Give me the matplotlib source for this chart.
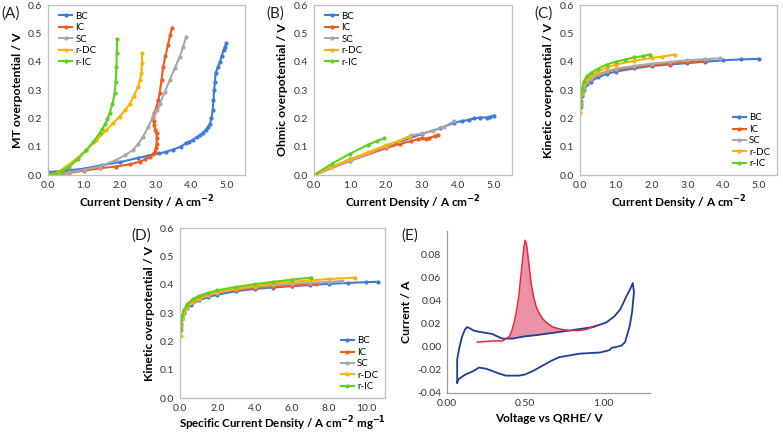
import matplotlib
matplotlib.use("Agg")
import matplotlib.pyplot as plt

plt.rcParams['font.family'] = ['Lato', 'DejaVu Sans']
plt.rcParams['axes.unicode_minus'] = False

names = ['BC', 'IC', 'SC', 'r-DC', 'r-IC']
colors = ['#3D7BDC', '#F05A1E', '#A8A8A8', '#FFB300', '#5ED11E']

# (A) mass transport overpotential
mt_x = {
    'BC': [0.0, 0.5, 1.0, 1.5, 2.0, 2.5, 2.8, 3.1, 3.3, 3.5, 3.7, 3.85, 3.95, 4.05, 4.15, 4.25, 4.33, 4.4,
           4.47, 4.52, 4.56, 4.6, 4.62, 4.64, 4.66, 4.68, 4.74, 4.8, 4.85, 4.9, 4.94, 4.98],
    'IC': [0.3, 0.6, 1.0, 1.45, 1.9, 2.3, 2.56, 2.72, 2.84, 2.92, 2.98, 3.01, 3.03, 3.04, 3.03, 3.0, 2.97,
           2.95, 2.93, 2.97, 3.03, 3.08, 3.12, 3.17, 3.21, 3.28, 3.35, 3.41, 3.47],
    'SC': [0.2, 0.6, 1.0, 1.45, 1.9, 2.15, 2.37, 2.52, 2.65, 2.8, 2.93, 3.03, 3.12, 3.26, 3.4, 3.54, 3.68,
           3.77, 3.86],
    'r-DC': [0.1, 0.3, 0.5, 0.8, 1.07, 1.35, 1.63, 1.82, 2.0, 2.14, 2.28, 2.4, 2.51, 2.57, 2.61, 2.62, 2.63],
    'r-IC': [0.0, 0.23, 0.4, 0.6, 0.85, 1.07, 1.25, 1.44, 1.52, 1.6, 1.66, 1.72, 1.8, 1.86, 1.89, 1.91,
             1.92, 1.93],
}
mt_y = {
    'BC': [0.01, 0.016, 0.022, 0.035, 0.045, 0.06, 0.068, 0.076, 0.082, 0.09, 0.1, 0.112, 0.118, 0.125,
           0.133, 0.141, 0.15, 0.16, 0.17, 0.18, 0.2, 0.23, 0.265, 0.3, 0.33, 0.36, 0.38, 0.4, 0.42, 0.44,
           0.452, 0.465],
    'IC': [0.0, 0.008, 0.015, 0.024, 0.03, 0.038, 0.047, 0.055, 0.065, 0.073, 0.082, 0.095, 0.11, 0.13,
           0.147, 0.16, 0.175, 0.19, 0.206, 0.22, 0.24, 0.265, 0.29, 0.335, 0.38, 0.42, 0.46, 0.495, 0.52],
    'SC': [0.0, 0.01, 0.018, 0.03, 0.053, 0.07, 0.088, 0.11, 0.135, 0.17, 0.206, 0.228, 0.25, 0.293,
           0.335, 0.377, 0.418, 0.453, 0.488],
    'r-DC': [0.0, 0.012, 0.03, 0.058, 0.088, 0.122, 0.159, 0.183, 0.206, 0.228, 0.25, 0.28, 0.31, 0.335,
             0.36, 0.395, 0.43],
    'r-IC': [0.005, 0.005, 0.014, 0.03, 0.058, 0.088, 0.115, 0.147, 0.163, 0.18, 0.198, 0.218, 0.25,
             0.288, 0.33, 0.38, 0.43, 0.48],
}

# (B) ohmic overpotential
ohm_x = {
    'BC': [0.0, 1.0, 2.0, 3.0, 3.5, 3.9, 4.1, 4.3, 4.45, 4.6, 4.8, 4.9, 5.0],
    'IC': [0.0, 1.0, 2.0, 2.4, 2.7, 2.9, 3.0, 3.1, 3.2, 3.35, 3.45],
    'SC': [0.0, 1.0, 2.0, 2.7, 3.0, 3.3, 3.6, 3.9],
    'r-DC': [0.0, 0.5, 1.0, 1.5, 2.0, 2.35, 2.65],
    'r-IC': [0.0, 0.5, 1.0, 1.5, 1.75, 1.95],
}
ohm_y = {
    'BC': [0.0, 0.055, 0.1, 0.145, 0.165, 0.185, 0.19, 0.195, 0.2, 0.203, 0.203, 0.206, 0.21],
    'IC': [0.0, 0.05, 0.095, 0.11, 0.12, 0.127, 0.13, 0.128, 0.13, 0.138, 0.142],
    'SC': [0.0, 0.05, 0.1, 0.14, 0.147, 0.155, 0.17, 0.19],
    'r-DC': [0.0, 0.03, 0.055, 0.08, 0.105, 0.12, 0.135],
    'r-IC': [0.0, 0.04, 0.075, 0.107, 0.12, 0.13],
}

# (C) kinetic overpotential vs current density
kin_x = {
    'BC': [0.02, 0.05, 0.1, 0.2, 0.3, 0.5, 0.75, 1.0, 1.5, 2.0, 2.5, 3.0, 3.5, 4.0, 4.5, 5.0],
    'IC': [0.02, 0.05, 0.1, 0.2, 0.3, 0.5, 0.75, 1.0, 1.5, 2.0, 2.5, 3.0, 3.45],
    'SC': [0.02, 0.05, 0.1, 0.2, 0.3, 0.5, 0.75, 1.0, 1.5, 2.0, 2.5, 3.0, 3.5, 3.9],
    'r-DC': [0.01, 0.05, 0.1, 0.2, 0.3, 0.5, 0.75, 1.0, 1.5, 2.0, 2.3, 2.65],
    'r-IC': [0.02, 0.05, 0.1, 0.2, 0.3, 0.5, 0.75, 1.0, 1.25, 1.5, 1.75, 1.95],
}
kin_y = {
    'BC': [0.25, 0.28, 0.3, 0.32, 0.33, 0.345, 0.357, 0.365, 0.376, 0.385, 0.39, 0.395, 0.4, 0.405, 0.408, 0.41],
    'IC': [0.26, 0.29, 0.31, 0.33, 0.34, 0.355, 0.365, 0.372, 0.381, 0.388, 0.393, 0.398, 0.402],
    'SC': [0.25, 0.285, 0.305, 0.328, 0.34, 0.355, 0.366, 0.375, 0.385, 0.393, 0.399, 0.405, 0.409, 0.412],
    'r-DC': [0.22, 0.29, 0.32, 0.34, 0.35, 0.365, 0.379, 0.39, 0.403, 0.413, 0.418, 0.425],
    'r-IC': [0.24, 0.3, 0.33, 0.35, 0.36, 0.375, 0.39, 0.4, 0.407, 0.415, 0.42, 0.425],
}

# (D) kinetic overpotential vs specific current density
spec_x = {
    'BC': [0.02, 0.1, 0.2, 0.4, 0.6, 1.0, 1.5, 2.0, 3.0, 4.0, 5.0, 6.0, 7.0, 8.0, 9.0, 10.0, 10.6],
    'IC': [0.05, 0.1, 0.2, 0.4, 0.7, 1.0, 1.5, 2.0, 3.0, 4.0, 5.0, 6.0, 7.3],
    'SC': [0.05, 0.1, 0.2, 0.4, 0.7, 1.0, 1.5, 2.0, 3.0, 4.0, 5.0, 6.0, 7.0, 8.0, 8.7],
    'r-DC': [0.03, 0.1, 0.35, 0.7, 1.0, 1.5, 2.0, 3.0, 4.0, 5.0, 6.0, 7.0, 8.0, 9.4],
    'r-IC': [0.05, 0.1, 0.35, 0.7, 1.0, 1.5, 2.0, 3.0, 4.0, 5.0, 6.0, 7.05],
}
spec_y = {
    'BC': [0.25, 0.28, 0.3, 0.318, 0.33, 0.345, 0.356, 0.365, 0.377, 0.385, 0.39, 0.395, 0.399, 0.403, 0.406, 0.409, 0.41],
    'IC': [0.26, 0.285, 0.31, 0.328, 0.34, 0.355, 0.365, 0.372, 0.381, 0.388, 0.393, 0.397, 0.402],
    'SC': [0.25, 0.28, 0.3, 0.322, 0.34, 0.35, 0.362, 0.372, 0.384, 0.392, 0.398, 0.403, 0.407, 0.41, 0.413],
    'r-DC': [0.22, 0.28, 0.32, 0.338, 0.35, 0.363, 0.373, 0.386, 0.396, 0.404, 0.41, 0.415, 0.42, 0.425],
    'r-IC': [0.24, 0.29, 0.33, 0.35, 0.36, 0.371, 0.38, 0.392, 0.402, 0.41, 0.418, 0.425],
}

# (E) cyclic voltammogram
cv_v = [0.065, 0.065, 0.08, 0.097, 0.115, 0.129, 0.145, 0.17, 0.2, 0.247, 0.29, 0.32, 0.355, 0.42, 0.5,
        0.57, 0.68, 0.785, 0.935, 1.02, 1.07, 1.108, 1.13, 1.15, 1.17, 1.19, 1.197, 1.185, 1.17, 1.14,
        1.118, 1.09, 1.054, 1.04, 0.98, 0.85, 0.72, 0.67, 0.63, 0.59, 0.55, 0.5, 0.46, 0.376, 0.33,
        0.29, 0.25, 0.204, 0.17, 0.118, 0.075, 0.065]
cv_i = [-0.031, -0.011, 0.0, 0.009, 0.015, 0.017, 0.016, 0.014, 0.013, 0.012, 0.011, 0.009, 0.007,
        0.007, 0.009, 0.01, 0.012, 0.014, 0.017, 0.021, 0.026, 0.032, 0.038, 0.044, 0.049, 0.055, 0.047,
        0.03, 0.018, 0.004, 0.001, 0.0, -0.001, -0.003, -0.005, -0.006, -0.009, -0.012, -0.015, -0.018,
        -0.021, -0.024, -0.025, -0.025, -0.023, -0.021, -0.019, -0.018, -0.021, -0.024, -0.028, -0.031]
peak_v = [0.194, 0.3, 0.355, 0.38, 0.4, 0.415, 0.43, 0.445, 0.46, 0.472, 0.484, 0.492, 0.5, 0.508, 0.516,
          0.527, 0.538, 0.553, 0.57, 0.59, 0.613, 0.645, 0.677, 0.73, 0.785, 0.84, 0.892, 0.946]
peak_i = [0.004, 0.005, 0.005, 0.007, 0.009, 0.014, 0.021, 0.031, 0.044, 0.06, 0.075, 0.086, 0.092, 0.089,
          0.081, 0.068, 0.055, 0.044, 0.035, 0.029, 0.024, 0.02, 0.017, 0.015, 0.014, 0.014, 0.015, 0.018]
peak_base = [0.004, 0.005, 0.005, 0.007, 0.0075, 0.0077, 0.0078, 0.008, 0.0082, 0.0084, 0.0086, 0.0087,
             0.0088, 0.0089, 0.009, 0.0092, 0.0094, 0.0097, 0.01, 0.0104, 0.0108, 0.0114, 0.012, 0.013,
             0.014, 0.0145, 0.015, 0.017]

fig = plt.figure(figsize=(7.83, 4.33), dpi=100)

tick_col = '#333333'
spine_col = '#BFBFBF'


def style(ax, box=True):
    for s in ax.spines.values():
        s.set_color(spine_col)
        s.set_linewidth(0.9)
    if not box:
        ax.spines['top'].set_visible(False)
        ax.spines['right'].set_visible(False)
        ax.spines['left'].set_color('#9A9A9A')
        ax.spines['bottom'].set_color('#9A9A9A')
    ax.tick_params(length=0, labelsize=7.5, labelcolor=tick_col, pad=4)


def series(ax, xs, ys, lw=1.5, ms=2.0):
    for n, c in zip(names, colors):
        ax.plot(xs[n], ys[n], color=c, lw=lw, marker='o', ms=ms, label=n)


def legend(ax, loc, anchor):
    ax.legend(loc=loc, bbox_to_anchor=anchor, frameon=False, fontsize=7,
              handlelength=1.4, labelspacing=0.25, handletextpad=0.3, borderpad=0.2)


cd_label = 'Current Density / A cm$^{\\mathbf{-2}}$'
xt = [0, 1, 2, 3, 4, 5]
yt = [0, 0.1, 0.2, 0.3, 0.4, 0.5, 0.6]

# (A)
axA = fig.add_axes([0.0613, 0.5958, 0.2516, 0.3926])
series(axA, mt_x, mt_y)
axA.set_xlim(0, 5.5)
axA.set_ylim(0, 0.6)
axA.set_xticks(xt)
axA.set_xticklabels([f'{v:.1f}' for v in xt])
axA.set_yticks(yt)
axA.set_yticklabels([f'{v:.1f}' for v in yt])
axA.set_xlabel(cd_label, fontsize=8.5, fontweight='bold', labelpad=3)
axA.set_ylabel('MT overpotential / V', fontsize=8.8, fontweight='bold', labelpad=4)
style(axA)
legend(axA, 'upper left', (0.02, 1.0))

# (B)
axB = fig.add_axes([0.401, 0.5958, 0.2529, 0.3926])
series(axB, ohm_x, ohm_y)
axB.set_xlim(0, 5.5)
axB.set_ylim(0, 0.6)
axB.set_xticks(xt)
axB.set_xticklabels([f'{v:.1f}' for v in xt])
axB.set_yticks(yt)
axB.set_yticklabels([f'{v:.1f}' for v in yt])
axB.set_xlabel(cd_label, fontsize=8.5, fontweight='bold', labelpad=3)
axB.set_ylabel('Ohmic overpotential / V', fontsize=8.8, fontweight='bold', labelpad=4)
style(axB)
legend(axB, 'upper left', (0.02, 1.0))

# (C)
axC = fig.add_axes([0.7407, 0.5958, 0.2516, 0.3926])
series(axC, kin_x, kin_y)
axC.set_xlim(0, 5.5)
axC.set_ylim(0, 0.6)
axC.set_xticks(xt)
axC.set_xticklabels([f'{v:.1f}' for v in xt])
axC.set_yticks(yt)
axC.set_yticklabels([f'{v:.1f}' for v in yt])
axC.set_xlabel(cd_label, fontsize=8.5, fontweight='bold', labelpad=3)
axC.set_ylabel('Kinetic overpotential / V', fontsize=8.8, fontweight='bold', labelpad=4)
style(axC)
legend(axC, 'lower right', (1.0, 0.0))

# (D)
axD = fig.add_axes([0.2299, 0.0808, 0.2618, 0.3926])
series(axD, spec_x, spec_y)
axD.set_xlim(0, 11)
axD.set_ylim(0, 0.6)
xtd = [0, 2, 4, 6, 8, 10]
axD.set_xticks(xtd)
axD.set_xticklabels([f'{v:.1f}' for v in xtd])
axD.set_yticks(yt)
axD.set_yticklabels([f'{v:.1f}' for v in yt])
axD.set_xlabel('Specific Current Density / A cm$^{\\mathbf{-2}}$ mg$^{\\mathbf{-1}}$',
               fontsize=8.3, fontweight='bold', labelpad=1)
axD.set_ylabel('Kinetic overpotential / V', fontsize=8.8, fontweight='bold', labelpad=4)
style(axD)
legend(axD, 'lower right', (1.0, 0.0))

# (E)
axE = fig.add_axes([0.5709, 0.0924, 0.2593, 0.3741])
axE.fill_between(peak_v, peak_base, peak_i, color='#E8879C', alpha=0.9, lw=0)
axE.plot(cv_v, cv_i, color='#1F3C99', lw=1.3)
axE.plot(peak_v, peak_i, color='#E8283C', lw=1.1)
axE.set_xlim(0, 1.3)
axE.set_ylim(-0.04, 0.1)
xte = [0, 0.5, 1.0]
axE.set_xticks(xte)
axE.set_xticklabels([f'{v:.2f}' for v in xte])
yte = [-0.04, -0.02, 0, 0.02, 0.04, 0.06, 0.08]
axE.set_yticks(yte)
axE.set_yticklabels([f'{v:.2f}' for v in yte])
axE.set_xlabel('Voltage vs QRHE/ V', fontsize=8.5, fontweight='bold', labelpad=4)
axE.set_ylabel('Current / A', fontsize=8.8, fontweight='bold', labelpad=4)
style(axE, box=False)

for txt, x, y in [('(A)', 0.002, 0.968), ('(B)', 0.340, 0.968), ('(C)', 0.682, 0.968),
                  ('(D)', 0.168, 0.455), ('(E)', 0.512, 0.455)]:
    fig.text(x, y, txt, fontsize=11, color='#222222', va='center')

fig.savefig('out.png', dpi=100)
